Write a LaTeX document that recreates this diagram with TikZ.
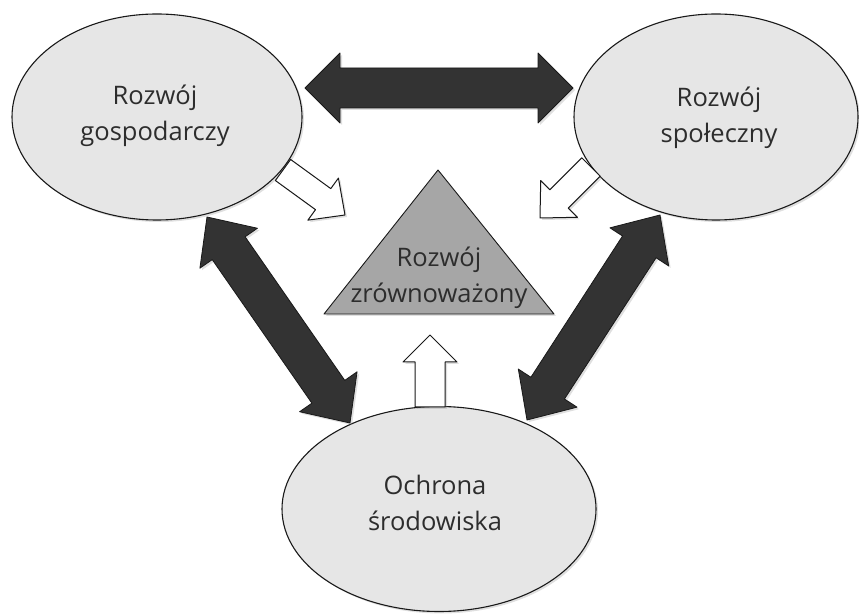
\documentclass[tikz,border=0pt]{standalone}
\usepackage{fontspec}
\setmainfont{Open Sans}
\usetikzlibrary{calc,shapes.geometric,shadows}
\definecolor{ellfill}{RGB}{230,230,230}
\definecolor{trifill}{RGB}{166,166,166}
\definecolor{darkarr}{RGB}{51,51,51}
\definecolor{linec}{RGB}{25,25,25}
\definecolor{txtc}{RGB}{45,45,45}
\tikzset{
  ell/.style={ellipse, draw=linec, line width=1.1pt, fill=ellfill, inner sep=0pt,
    drop shadow={opacity=0.25, shadow xshift=2pt, shadow yshift=-2pt}},
  lbl/.style={align=center, text=txtc, font=\fontsize{25.5}{36}\selectfont},
  darkstyle/.style={draw=linec, line width=0.8pt, fill=darkarr, line join=round,
    drop shadow={opacity=0.25, shadow xshift=2pt, shadow yshift=-2pt}},
  whitestyle/.style={draw=linec, line width=1pt, fill=white, line join=round,
    drop shadow={opacity=0.25, shadow xshift=2pt, shadow yshift=-2pt}},
  tristyle/.style={draw=linec, line width=0.9pt, fill=trifill, line join=round,
    drop shadow={opacity=0.25, shadow xshift=2pt, shadow yshift=-2pt}}
}
% #1 style, #2 from, #3 to, #4 shaft half width, #5 head half width, #6 head length
\newcommand\blkdouble[6]{%
  \pgfpointdiff{\pgfpointanchor{#2}{center}}{\pgfpointanchor{#3}{center}}%
  \pgfgetlastxy{\bax}{\bay}%
  \pgfmathsetmacro\baang{atan2(\bay,\bax)}%
  \pgfmathsetmacro\balen{veclen(\bax,\bay)}%
  \begin{scope}[shift={(#2)},rotate=\baang]
    \draw[#1] (0,0) -- (#6,#5) -- (#6,#4) -- ({\balen-#6},#4) -- ({\balen-#6},#5)
      -- (\balen,0) -- ({\balen-#6},-#5) -- ({\balen-#6},-#4) -- (#6,-#4) -- (#6,-#5) -- cycle;
  \end{scope}}
\newcommand\blksingle[6]{%
  \pgfpointdiff{\pgfpointanchor{#2}{center}}{\pgfpointanchor{#3}{center}}%
  \pgfgetlastxy{\bax}{\bay}%
  \pgfmathsetmacro\baang{atan2(\bay,\bax)}%
  \pgfmathsetmacro\balen{veclen(\bax,\bay)}%
  \begin{scope}[shift={(#2)},rotate=\baang]
    \draw[#1] (0,#4) -- ({\balen-#6},#4) -- ({\balen-#6},#5) -- (\balen,0)
      -- ({\balen-#6},-#5) -- ({\balen-#6},-#4) -- (0,-#4) -- cycle;
  \end{scope}}
\begin{document}
\begin{tikzpicture}[x=1pt,y=1pt]
\useasboundingbox (0,0) rectangle (859,613);
% ellipses
\node[ell, minimum width=290pt, minimum height=206pt] (gosp) at (157,496) {};
\node[ell, minimum width=284pt, minimum height=206pt] (spol) at (716,496) {};
\node[ell, minimum width=314pt, minimum height=205pt] (ochr) at (439,104) {};
\node[lbl] at (155,497) {Rozwój\\gospodarczy};
\node[lbl] at (719,495) {Rozwój\\społeczny};
\node[lbl] at (435,110) {Ochrona\\środowiska};
% triangle
\coordinate (tA) at (438,443);
\coordinate (tL) at (324,299);
\coordinate (tR) at (554,299);
\draw[tristyle] (tA) -- (tR) -- (tL) -- cycle;
\node[lbl] (zrow) at (439,335) {Rozwój\\zrównoważony};
% dark double arrows
\coordinate (h1) at (305,525);
\coordinate (h2) at (573,525);
\coordinate (l1) at (207,396);
\coordinate (l2) at (350,190);
\coordinate (r1) at (660,398);
\coordinate (r2) at (527,193);
\blkdouble{darkstyle}{h1}{h2}{20}{35}{35}
\blkdouble{darkstyle}{l1}{l2}{20}{35}{38}
\blkdouble{darkstyle}{r1}{r2}{20}{35}{38}
% white arrows
\coordinate (wl1) at (283,443);
\coordinate (wl2) at (345,398);
\coordinate (wr1) at (591,446);
\coordinate (wr2) at (540,395);
\coordinate (wb1) at (430,206);
\coordinate (wb2) at (430,278);
\blksingle{whitestyle}{wl1}{wl2}{13}{26}{27}
\blksingle{whitestyle}{wr1}{wr2}{13}{26}{27}
\blksingle{whitestyle}{wb1}{wb2}{15}{27}{27}
\end{tikzpicture}
\end{document}
